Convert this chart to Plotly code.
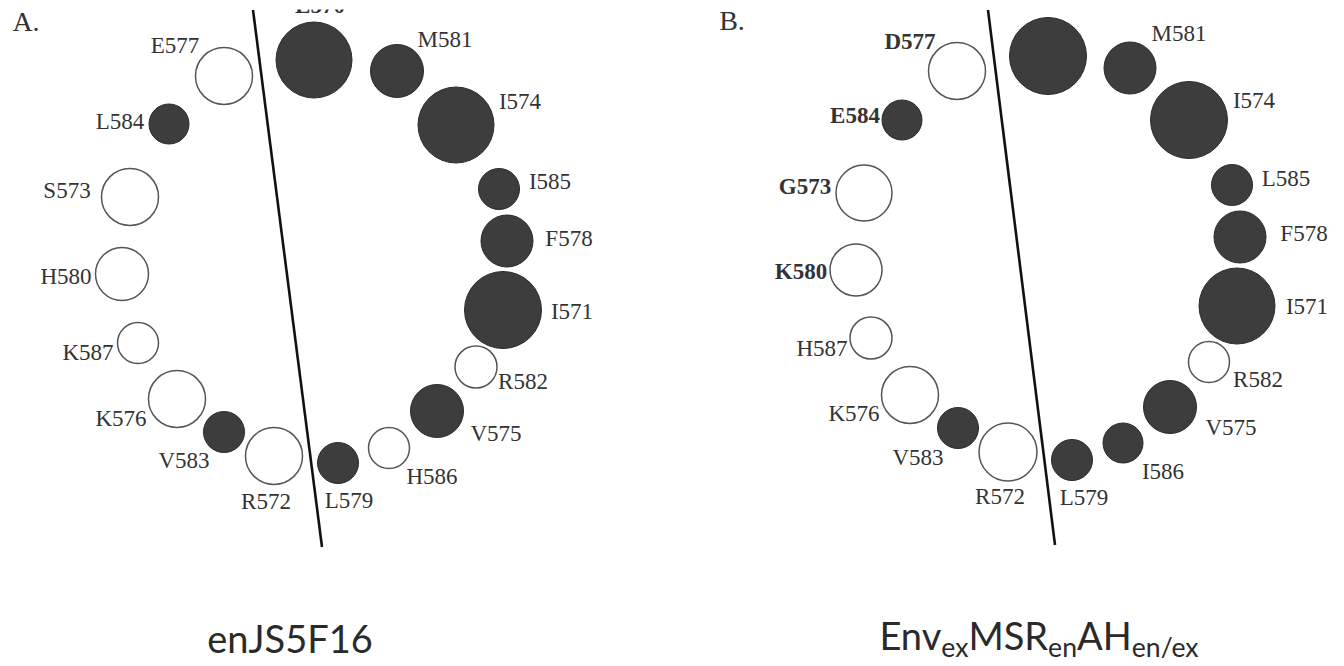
import plotly.graph_objects as go

# ---------------- data ----------------
# Panel A: enJS5F16 helical wheel
a_res = ["L570", "M581", "I574", "I585", "F578", "I571", "R582", "V575", "H586",
         "L579", "R572", "V583", "K576", "K587", "H580", "S573", "L584", "E577"]
a_x = [314, 397, 456, 499, 507, 503, 476, 437, 389, 338, 274, 224, 177, 138, 122, 130, 169, 224]
a_y = [60, 71, 125, 189, 241, 310, 367, 411, 448, 463, 456, 432, 399, 343, 274, 197, 124, 76]
a_d = [76, 53, 76, 41, 52, 77, 42, 53, 41, 41, 57, 41, 57, 41, 53, 57, 40, 57]
a_fill = [1, 1, 1, 1, 1, 1, 0, 1, 0, 1, 0, 1, 0, 0, 0, 0, 1, 0]
a_lx = [320, 445, 520, 550, 569, 572, 523, 496, 432, 349, 266, 184, 121, 88, 66, 67, 120, 175]
a_ly = [7, 41, 103, 183, 240, 313, 383, 435, 478, 502, 503, 462, 420, 354, 278, 192, 123, 47]
a_bold = [1, 0, 0, 0, 0, 0, 0, 0, 0, 0, 0, 0, 0, 0, 0, 0, 0, 0]

# Panel B: Env_ex MSR_en AH_en/ex helical wheel (top residue label not shown)
b_res = ["M581", "I574", "L585", "F578", "I571", "R582", "V575", "I586",
         "L579", "R572", "V583", "K576", "H587", "K580", "G573", "E584", "D577"]
b_x = [1048, 1130, 1189, 1232, 1240, 1237, 1209, 1170, 1123, 1072, 1008, 958, 910, 871, 856, 864, 902, 957]
b_y = [56, 68, 120, 185, 237, 306, 362, 407, 443, 460, 452, 428, 395, 338, 270, 193, 120, 71]
b_d = [77, 52, 77, 41, 52, 76, 41, 53, 40, 41, 58, 41, 57, 42, 52, 56, 40, 57]
b_fill = [1, 1, 1, 1, 1, 1, 0, 1, 1, 1, 0, 1, 0, 0, 0, 0, 1, 0]
b_lx = [1179, 1254, 1286, 1304, 1307, 1258, 1231, 1163, 1084, 1000, 918, 854, 822, 801, 805, 855, 910]
b_ly = [35, 102, 180, 235, 308, 381, 429, 473, 499, 498, 459, 415, 350, 273, 188, 117, 43]
b_bold = [0, 0, 0, 0, 0, 0, 0, 0, 0, 0, 0, 0, 0, 1, 1, 1, 1]

# membrane-interface dividing lines (end points)
a_line_x = [253, 322]
a_line_y = [10, 547]
b_line_x = [988, 1055]
b_line_y = [10, 545]

panel_tags = ["A.", "B."]
panel_tag_x = [26, 732]
panel_tag_y = [24, 23]

captions = ["enJS5F16", "Env<sub>ex</sub>MSR<sub>en</sub>AH<sub>en/ex</sub>"]
caption_x = [290, 1039]
caption_y = [643, 640]

FILLED = "#3d3d3d"
OPEN_EDGE = "#555555"
TEXT = "#333333"

fig = go.Figure()

for lx, ly in [(a_line_x, a_line_y), (b_line_x, b_line_y)]:
    fig.add_trace(go.Scatter(x=lx, y=ly, mode="lines",
                             line=dict(color="#111111", width=2.6),
                             hoverinfo="skip", showlegend=False))

for xs, ys, ds, fs in [(a_x, a_y, a_d, a_fill), (b_x, b_y, b_d, b_fill)]:
    fig.add_trace(go.Scatter(
        x=xs, y=ys, mode="markers", showlegend=False, hoverinfo="skip",
        marker=dict(size=ds,
                    color=[FILLED if f else "white" for f in fs],
                    line=dict(color=["#2b2b2b" if f else OPEN_EDGE for f in fs],
                              width=[1 if f else 1.5 for f in fs]),
                    opacity=1)))

for res, lx, ly, bold in [(a_res, a_lx, a_ly, a_bold), (b_res, b_lx, b_ly, b_bold)]:
    fig.add_trace(go.Scatter(
        x=lx, y=ly, mode="text", showlegend=False, hoverinfo="skip",
        text=[f"<b>{r}</b>" if b else r for r, b in zip(res, bold)],
        textposition="middle center",
        textfont=dict(family="Liberation Serif", size=23, color=TEXT)))

fig.add_trace(go.Scatter(
    x=panel_tag_x, y=panel_tag_y, mode="text", text=panel_tags,
    textposition="middle center", showlegend=False, hoverinfo="skip",
    textfont=dict(family="Liberation Serif", size=28, color=TEXT)))

fig.add_trace(go.Scatter(
    x=caption_x, y=caption_y, mode="text", text=captions,
    textposition="middle center", showlegend=False, hoverinfo="skip",
    textfont=dict(family="Lato", size=38, color="#2a2a2a")))

# white page-top margin of the source figure, which crops the top residue label
fig.add_shape(type="rect", xref="paper", yref="y", x0=0, x1=1, y0=0, y1=9.5,
              fillcolor="white", line=dict(width=0), layer="above")

fig.update_xaxes(range=[0, 1344], visible=False, showgrid=False, zeroline=False)
fig.update_yaxes(range=[666, 0], visible=False, showgrid=False, zeroline=False)
fig.update_layout(width=1344, height=666, margin=dict(l=0, r=0, t=0, b=0),
                  paper_bgcolor="white", plot_bgcolor="white")

fig.write_html("out.html", config={"displayModeBar": False})
